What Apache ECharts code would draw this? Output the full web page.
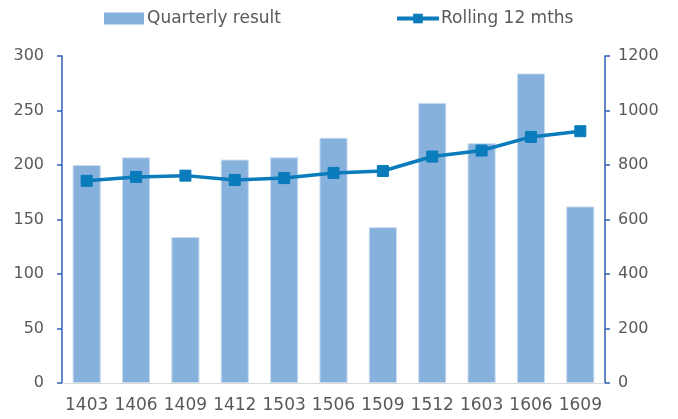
<!DOCTYPE html>
<html>
<head>
<meta charset="utf-8">
<script src="https://cdn.jsdelivr.net/npm/echarts@6/dist/echarts.min.js"></script>
<style>
html,body{margin:0;padding:0;background:#fff;}
#chart{width:678px;height:419px;}
</style>
</head>
<body>
<div id="chart"></div>
<script>
const categories = ['1403','1406','1409','1412','1503','1506','1509','1512','1603','1606','1609'];
const quarterly = [200, 207, 134, 205, 207, 225, 143, 257, 220, 284, 162];
const rolling = [742, 756, 761, 745, 752, 771, 778, 831, 853, 903, 924];
const leftTicks = {min: 0, max: 300, interval: 50};
const rightTicks = {min: 0, max: 1200, interval: 200};

const txt = '#595959';
const axisBlue = '#2f5fb5';
const font = 'DejaVu Sans, Verdana, sans-serif';

const chart = echarts.init(document.getElementById('chart'), null, {renderer: 'canvas'});
chart.setOption({
  animation: false,
  backgroundColor: '#fff',
  textStyle: {fontFamily: font},
  legend: [
    {
      data: [{name: 'Quarterly result', icon: 'rect'}],
      left: 99, top: 5,
      itemWidth: 40, itemHeight: 12, itemGap: 4,
      itemStyle: {borderWidth: 0, color: '#86b1dc'},
      textStyle: {color: txt, fontSize: 17, fontFamily: font, padding: [0,0,0,-2]}
    },
    {
      data: ['Rolling 12 mths'],
      left: 390, top: 5,
      itemWidth: 42, itemHeight: 12,
      lineStyle: {width: 4, color: '#0a7bbb'},
      textStyle: {color: txt, fontSize: 17, fontFamily: font, padding: [0,0,0,-3]}
    }
  ],
  grid: {left: 62, right: 73, top: 56, bottom: 36, containLabel: false},
  xAxis: {
    type: 'category',
    data: categories,
    axisLine: {show: true, lineStyle: {color: '#d9d9d9', width: 1}},
    axisTick: {show: false},
    axisLabel: {color: txt, fontSize: 17, fontFamily: font, margin: 14, interval: 0}
  },
  yAxis: [
    {
      type: 'value',
      min: leftTicks.min, max: leftTicks.max, interval: leftTicks.interval,
      position: 'left',
      axisLine: {show: true, lineStyle: {color: axisBlue, width: 1.5}},
      axisTick: {show: true, length: 5, lineStyle: {color: axisBlue, width: 1.5}},
      splitLine: {show: false},
      axisLabel: {color: txt, fontSize: 16, fontFamily: font, margin: 18}
    },
    {
      type: 'value',
      min: rightTicks.min, max: rightTicks.max, interval: rightTicks.interval,
      position: 'right',
      axisLine: {show: true, lineStyle: {color: axisBlue, width: 1.5}},
      axisTick: {show: true, length: 5, lineStyle: {color: axisBlue, width: 1.5}},
      splitLine: {show: false},
      axisLabel: {color: txt, fontSize: 16, fontFamily: font, margin: 13, formatter: v => String(v)}
    }
  ],
  series: [
    {
      name: 'Quarterly result',
      type: 'bar',
      yAxisIndex: 0,
      data: quarterly,
      barCategoryGap: '43%',
      itemStyle: {color: '#86b1dc', borderColor: '#c9dcf0', borderWidth: 1}
    },
    {
      name: 'Rolling 12 mths',
      type: 'line',
      yAxisIndex: 1,
      data: rolling,
      symbol: 'rect',
      symbolSize: 11,
      lineStyle: {color: '#0a7bbb', width: 3.5},
      itemStyle: {color: '#0a7bbb', borderColor: '#0a7bbb'}
    }
  ]
});
</script>
</body>
</html>
